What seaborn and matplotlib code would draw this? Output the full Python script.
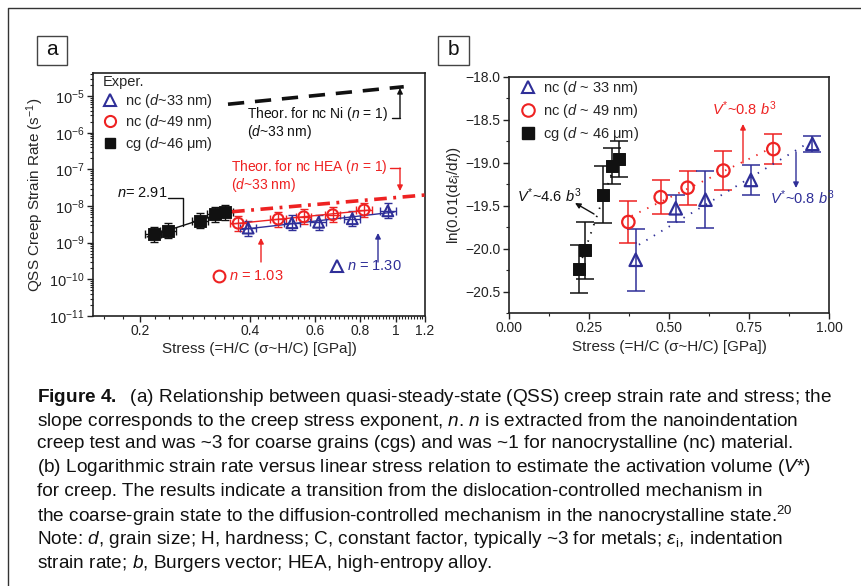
import numpy as np
import matplotlib
matplotlib.use("Agg")
import matplotlib.pyplot as plt
import seaborn as sns
from matplotlib import font_manager as fm
from matplotlib.lines import Line2D
from matplotlib.patches import Rectangle
from matplotlib.ticker import (FixedLocator, FixedFormatter, LogLocator,
                               NullFormatter, MultipleLocator, FuncFormatter)

# ---------------- data: panel (a) ----------------
cg_stress_a = [0.218, 0.239, 0.292, 0.321, 0.342]
cg_rate_a = [1.7e-9, 2.1e-9, 4.0e-9, 6.0e-9, 6.7e-9]
nc49_stress_a = [0.371, 0.477, 0.560, 0.672, 0.818]
nc49_rate_a = [3.4e-9, 4.4e-9, 5.1e-9, 5.8e-9, 7.8e-9]
nc33_stress_a = [0.395, 0.520, 0.615, 0.760, 0.950]
nc33_rate_a = [2.5e-9, 3.5e-9, 3.6e-9, 4.5e-9, 7.4e-9]
stress_rel_err_a = 0.05
rate_err_factor_a = 1.6
theor_ni_stress = [0.348, 1.05]
theor_ni_rate = [6.0e-6, 1.8e-5]
theor_hea_stress = [0.357, 1.2]
theor_hea_rate = [7.0e-9, 2.0e-8]

# ---------------- data: panel (b) ----------------
cg_stress_b = [0.219, 0.238, 0.295, 0.321, 0.345]
cg_ln_b = [-20.24, -20.02, -19.37, -19.04, -18.95]
cg_err_b = [0.28, 0.33, 0.33, 0.21, 0.21]
nc49_stress_b = [0.373, 0.474, 0.558, 0.670, 0.826]
nc49_ln_b = [-19.69, -19.40, -19.29, -19.09, -18.84]
nc49_err_b = [0.25, 0.20, 0.20, 0.23, 0.17]
nc33_stress_b = [0.396, 0.521, 0.614, 0.756, 0.948]
nc33_ln_b = [-20.13, -19.53, -19.43, -19.20, -18.78]
nc33_err_b = [0.36, 0.16, 0.33, 0.17, 0.09]

xticks_a = [0.2, 0.4, 0.6, 0.8, 1.0, 1.2]
xticklabels_a = ["0.2", "0.4", "0.6", "0.8", "1", "1.2"]

caption_lines = [
    r"$\mathbf{Figure\ 4.}$  (a) Relationship between quasi-steady-state (QSS) creep strain rate and stress; the",
    r"slope corresponds to the creep stress exponent, $n$. $n$ is extracted from the nanoindentation",
    r"creep test and was ~3 for coarse grains (cgs) and was ~1 for nanocrystalline (nc) material.",
    r"(b) Logarithmic strain rate versus linear stress relation to estimate the activation volume ($V$*)",
    r"for creep. The results indicate a transition from the dislocation-controlled mechanism in",
    r"the coarse-grain state to the diffusion-controlled mechanism in the nanocrystalline state.$^{20}$",
    r"Note: $d$, grain size; H, hardness; C, constant factor, typically ~3 for metals; $\varepsilon_{\mathrm{i}}$, indentation",
    r"strain rate; $b$, Burgers vector; HEA, high-entropy alloy.",
]

BLUE = "#2f2f98"
RED = "#ee2222"
BLACK = "#111111"

# ---------------- style ----------------
sns.set_theme(style="ticks")
plt.rcParams["font.family"] = ["Liberation Sans", "DejaVu Sans"]
plt.rcParams.update({
    "mathtext.fontset": "custom",
    "mathtext.rm": "Liberation Sans",
    "mathtext.it": "Liberation Sans:italic",
    "mathtext.bf": "Liberation Sans:bold",
    "axes.edgecolor": "#222222",
    "axes.linewidth": 1.2,
    "xtick.color": "#222222",
    "ytick.color": "#222222",
    "xtick.direction": "out",
    "ytick.direction": "out",
    "xtick.major.size": 4,
    "ytick.major.size": 4,
    "xtick.minor.size": 2,
    "ytick.minor.size": 2,
    "xtick.major.width": 1.0,
    "ytick.major.width": 1.0,
    "xtick.minor.width": 0.8,
    "ytick.minor.width": 0.8,
    "axes.unicode_minus": True,
})


def has_font(name):
    try:
        fm.findfont(fm.FontProperties(family=name), fallback_to_default=False)
        return True
    except Exception:
        return False


caption_family = "Liberation Sans Narrow" if has_font("Liberation Sans Narrow") else "Liberation Sans"

W, H = 861, 586
fig = plt.figure(figsize=(W / 100, H / 100), dpi=100)
fig.patch.set_facecolor("white")


def P(x, y):
    return (x / W, 1 - y / H)


def fig_line(xs, ys, color, lw=1.0):
    pts = [P(x, y) for x, y in zip(xs, ys)]
    fig.add_artist(Line2D([p[0] for p in pts], [p[1] for p in pts],
                          transform=fig.transFigure, color=color, lw=lw))


def fig_arrow(x0, y0, x1, y1, color):
    fig.add_artist(matplotlib.patches.FancyArrowPatch(
        P(x0, y0), P(x1, y1), transform=fig.transFigure, arrowstyle="-|>",
        mutation_scale=8, color=color, lw=1.0, shrinkA=0, shrinkB=0))


def fig_text(x, y, s, color=BLACK, size=10, ha="left", va="center", **kw):
    return fig.text(*P(x, y), s, color=color, fontsize=size, ha=ha, va=va, **kw)


# outer frame (top and left edges)
fig_line([8, 8, 861], [586, 8, 8], "#333333", lw=1.0)

# ---------------- panel (a) ----------------
axa = fig.add_axes([93 / W, 1 - 316 / H, (425 - 93) / W, (316 - 73) / H])
axa.set_xscale("log")
axa.set_yscale("log")
axa.set_xlim(0.149, 1.2)
axa.set_ylim(1e-11, 10 ** -4.37)


def loglog_fit(x, y, x_lo, x_hi):
    p = np.polyfit(np.log10(x), np.log10(y), 1)
    xs = np.array([x_lo, x_hi])
    return xs, 10 ** np.polyval(p, np.log10(xs))


series_a = [
    (cg_stress_a, cg_rate_a, BLACK, "s", True),
    (nc49_stress_a, nc49_rate_a, RED, "o", False),
    (nc33_stress_a, nc33_rate_a, BLUE, "^", False),
]
for xs, ys, c, m, filled in series_a:
    xs = np.array(xs)
    ys = np.array(ys)
    axa.errorbar(xs, ys, xerr=xs * stress_rel_err_a,
                 yerr=[ys - ys / rate_err_factor_a, ys * rate_err_factor_a - ys],
                 fmt="none", ecolor=c, elinewidth=1.0, capsize=3, capthick=1.0, zorder=2)
    fx, fy = loglog_fit(xs, ys, xs.min() * 0.96, xs.max() * 1.04)
    sns.lineplot(x=fx, y=fy, color=c, lw=1.0, ax=axa, estimator=None, sort=False, zorder=3)
    if filled:
        sns.scatterplot(x=xs, y=ys, marker=m, s=65, color=c, edgecolor=c, ax=axa, zorder=4)
    else:
        sns.scatterplot(x=xs, y=ys, marker=m, s=60, facecolor="none", edgecolor=c,
                        linewidth=1.5, ax=axa, zorder=4)

sns.lineplot(x=theor_ni_stress, y=theor_ni_rate, color=BLACK, lw=2.6, ax=axa,
             estimator=None, sort=False, zorder=3)
axa.lines[-1].set_dashes([4.5, 3.0])
sns.lineplot(x=theor_hea_stress, y=theor_hea_rate, color=RED, lw=2.6, ax=axa,
             estimator=None, sort=False, zorder=3)
axa.lines[-1].set_dashes([3.5, 1.8, 0.8, 1.8])

axa.xaxis.set_major_locator(FixedLocator(xticks_a))
axa.xaxis.set_major_formatter(FixedFormatter(xticklabels_a))
axa.xaxis.set_minor_locator(FixedLocator(np.arange(0.16, 1.2, 0.02)))
axa.xaxis.set_minor_formatter(NullFormatter())
axa.yaxis.set_major_locator(LogLocator(base=10, numticks=20))
axa.yaxis.set_minor_locator(LogLocator(base=10, subs=np.arange(2, 10), numticks=20))
axa.yaxis.set_minor_formatter(NullFormatter())
axa.tick_params(axis="x", labelsize=10, pad=2)
axa.tick_params(axis="y", labelsize=10.5, pad=2)
axa.set_xlabel("Stress (=H/C (σ~H/C) [GPa])", fontsize=11, labelpad=3)
axa.set_ylabel("QSS Creep Strain Rate (s$^{-1}$)", fontsize=11, labelpad=2)

hand_a = [
    Line2D([], [], ls="none", marker="^", mfc="none", mec=BLUE, mew=1.5, ms=8),
    Line2D([], [], ls="none", marker="o", mfc="none", mec=RED, mew=1.5, ms=8),
    Line2D([], [], ls="none", marker="s", mfc=BLACK, mec=BLACK, ms=7),
]
axa.legend(hand_a, ["nc ($d$~33 nm)", "nc ($d$~49 nm)", "cg ($d$~46 μm)"],
           title="Exper.", alignment="left", loc="upper left",
           bbox_to_anchor=P(103, 75), bbox_transform=fig.transFigure,
           frameon=False, borderpad=0, borderaxespad=0, handlelength=0.9,
           handletextpad=0.6, labelspacing=0.22, fontsize=10.5, title_fontsize=10.5)

# annotations panel (a)
fig_text(167, 193, "$n$= 2.91", ha="right", size=10.5)
fig_line([168, 183, 183], [198, 198, 226], BLACK)
fig_text(247, 114, "Theor. for nc Ni ($n$ = 1)")
fig_text(247, 132, "($d$~33 nm)")
fig_line([392, 400], [118, 118], BLACK)
fig_arrow(400, 118, 400, 88, BLACK)
fig_text(231, 167, "Theor. for nc HEA ($n$ = 1)", color=RED)
fig_text(231, 185, "($d$~33 nm)", color=RED)
fig_line([390, 400], [168, 168], RED)
fig_arrow(400, 168, 400, 191, RED)
fig_arrow(261, 262, 261, 238, RED)
fig.add_artist(Line2D([P(219, 276)[0]], [P(219, 276)[1]], transform=fig.transFigure,
                      marker="o", mfc="none", mec=RED, mew=1.5, ms=8.5, ls="none"))
fig_text(229, 276, "$n$ = 1.03", color=RED, size=10.5)
fig_arrow(378, 262, 378, 233, BLUE)
fig.add_artist(Line2D([P(337, 266)[0]], [P(337, 266)[1]], transform=fig.transFigure,
                      marker="^", mfc="none", mec=BLUE, mew=1.5, ms=9, ls="none"))
fig_text(347, 266, "$n$ = 1.30", color=BLUE, size=10.5)

# ---------------- panel (b) ----------------
axb = fig.add_axes([509 / W, 1 - 313 / H, (829 - 509) / W, (313 - 77) / H])
axb.set_xlim(0, 1.0)
axb.set_ylim(-20.75, -18.0)

series_b = [
    (cg_stress_b, cg_ln_b, cg_err_b, BLACK, "s", True),
    (nc49_stress_b, nc49_ln_b, nc49_err_b, RED, "o", False),
    (nc33_stress_b, nc33_ln_b, nc33_err_b, BLUE, "^", False),
]
for xs, ys, es, c, m, filled in series_b:
    xs = np.array(xs)
    ys = np.array(ys)
    axb.errorbar(xs, ys, yerr=es, fmt="none", ecolor=c, elinewidth=1.1,
                 capsize=6.5, capthick=1.1, zorder=2)
    p = np.polyfit(xs, ys, 1)
    fx = np.array([xs.min() + 0.01, xs.max() - 0.01])
    sns.lineplot(x=fx, y=np.polyval(p, fx), color=c, lw=1.3, ax=axb,
                 estimator=None, sort=False, zorder=3)
    axb.lines[-1].set_dashes([0.8, 4.0])
    if filled:
        sns.scatterplot(x=xs, y=ys, marker=m, s=75, color=c, edgecolor=c, ax=axb, zorder=4)
    else:
        sns.scatterplot(x=xs, y=ys, marker=m, s=80, facecolor="none", edgecolor=c,
                        linewidth=1.6, ax=axb, zorder=4)

axb.xaxis.set_major_locator(MultipleLocator(0.25))
axb.xaxis.set_minor_locator(MultipleLocator(0.125))
axb.xaxis.set_major_formatter(FuncFormatter(lambda v, _: f"{v:.2f}"))
axb.yaxis.set_major_locator(MultipleLocator(0.5))
axb.yaxis.set_minor_locator(MultipleLocator(0.25))
axb.yaxis.set_major_formatter(FuncFormatter(lambda v, _: f"{v:.1f}".replace("-", "\u2212")))
axb.tick_params(labelsize=10, pad=2)
axb.set_xlabel("Stress (=H/C (σ~H/C) [GPa])", fontsize=11, labelpad=3)
axb.set_ylabel(r"ln(0.01(d$\varepsilon_{\mathrm{i}}$/d$t$))", fontsize=11, labelpad=2)

hand_b = [
    Line2D([], [], ls="none", marker="^", mfc="none", mec=BLUE, mew=1.5, ms=9),
    Line2D([], [], ls="none", marker="o", mfc="none", mec=RED, mew=1.5, ms=9),
    Line2D([], [], ls="none", marker="s", mfc=BLACK, mec=BLACK, ms=8),
]
axb.legend(hand_b, ["nc ($d$ ~ 33 nm)", "nc ($d$ ~ 49 nm)", "cg ($d$ ~ 46 μm)"],
           loc="upper left", bbox_to_anchor=P(521, 79), bbox_transform=fig.transFigure,
           frameon=False, borderpad=0, borderaxespad=0, handlelength=0.9,
           handletextpad=0.6, labelspacing=0.35, fontsize=10.5)

fig_text(517, 196, "$V^{*}$~4.6 $b^{3}$", size=10.5)
fig_arrow(594, 214, 575, 203, BLACK)
fig_text(712, 109, "$V^{*}$~0.8 $b^{3}$", color=RED, size=10.5)
fig_arrow(743, 163, 743, 124, RED)
fig_text(770, 198, "$V^{*}$~0.8 $b^{3}$", color=BLUE, size=10.5)
fig_arrow(796, 152, 796, 188, BLUE)

# panel labels
for (x0, y0, x1, y1, lab) in [(37, 36, 67, 65, "a"), (438, 36, 469, 65, "b")]:
    fig.add_artist(Rectangle(P(x0, y1), (x1 - x0) / W, (y1 - y0) / H,
                             transform=fig.transFigure, fill=False,
                             edgecolor="#444444", lw=1.0))
    fig_text((x0 + x1) / 2, (y0 + y1) / 2 - 1, lab, size=15, ha="center")

# ---------------- caption ----------------
fig.canvas.draw()
renderer = fig.canvas.get_renderer()
max_w = 0
for s in caption_lines:
    probe = fig.text(0, 0, s, fontsize=12, family=caption_family)
    max_w = max(max_w, probe.get_window_extent(renderer).width)
    probe.remove()
cap_size = 12 * (829 - 37) / max_w
line_ys = [397, 421, 444, 468, 492, 516, 540, 563]
for s, y in zip(caption_lines, line_ys):
    fig_text(37, y, s, size=cap_size, family=caption_family, color="#111111")

fig.savefig("out.png", dpi=100, facecolor="white")
